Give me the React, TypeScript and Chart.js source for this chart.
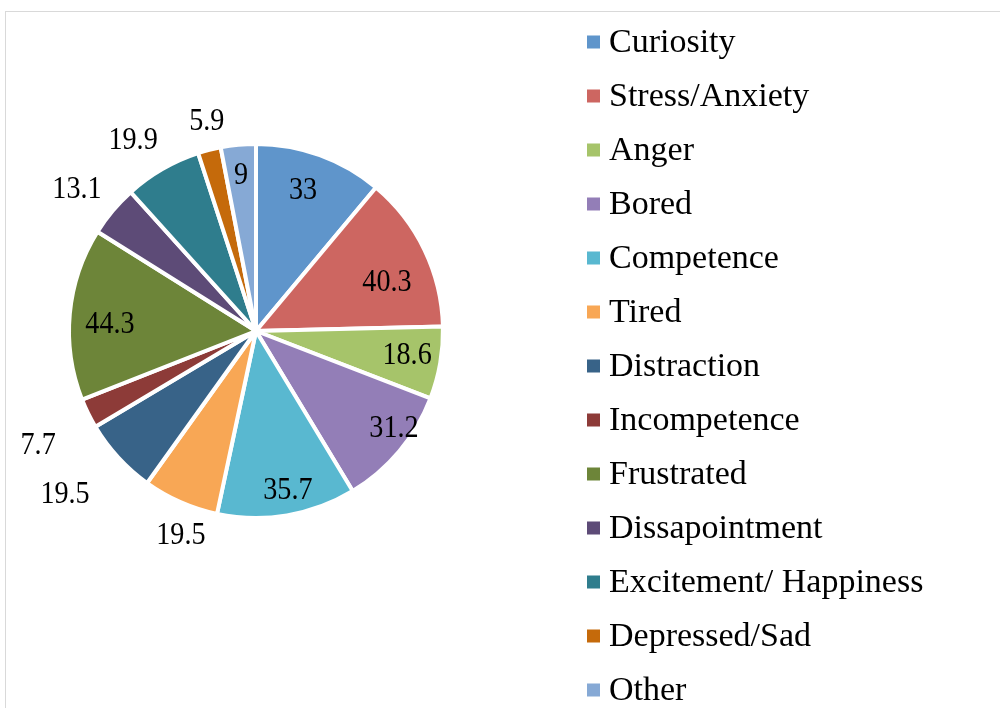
import React, { useEffect, useRef } from "react";
import { Chart, registerables } from "chart.js";

Chart.register(...registerables);

const categories: string[] = [
  "Curiosity",
  "Stress/Anxiety",
  "Anger",
  "Bored",
  "Competence",
  "Tired",
  "Distraction",
  "Incompetence",
  "Frustrated",
  "Dissapointment",
  "Excitement/ Happiness",
  "Depressed/Sad",
  "Other",
];

const values: number[] = [33, 40.3, 18.6, 31.2, 35.7, 19.5, 19.5, 7.7, 44.3, 13.1, 19.9, 5.9, 9];

const sliceColors: string[] = [
  "#5F95CB",
  "#CD6661",
  "#A6C46A",
  "#937EB7",
  "#59B8D0",
  "#F8A755",
  "#386388",
  "#8D3B38",
  "#6D8539",
  "#5D4B77",
  "#2F7D8D",
  "#C56A0B",
  "#86A9D5",
];

// label placement: radial distance as a fraction of the pie radius, and an angular nudge in degrees
const labelRadius: number[] = [0.795, 0.748, 0.818, 0.902, 0.867, 1.162, 1.343, 1.313, 0.782, 1.225, 1.215, 1.158, 0.838];
const labelAngleNudge: number[] = [-1.5, 5.2, -0.9, -4.9, -1.8, -3.6, 2.1, -1.3, -2.2, -1.4, -2.7, 1.3, 0];

const labelPlugin = {
  id: "valueLabels",
  afterDatasetsDraw(chart: any) {
    const ctx = chart.ctx;
    const meta = chart.getDatasetMeta(0);
    const data = chart.data.datasets[0].data as number[];
    ctx.save();
    ctx.fillStyle = "#000000";
    ctx.font = "32px 'Liberation Serif'";
    ctx.textAlign = "center";
    ctx.textBaseline = "middle";
    meta.data.forEach((arc: any, i: number) => {
      const p = arc.getProps(["x", "y", "startAngle", "endAngle", "outerRadius"], true);
      const mid = (p.startAngle + p.endAngle) / 2 + (labelAngleNudge[i] * Math.PI) / 180;
      const r = p.outerRadius * labelRadius[i];
      const x = p.x + Math.cos(mid) * r;
      const y = p.y + Math.sin(mid) * r;
      ctx.save();
      ctx.translate(x, y);
      ctx.scale(0.88, 1);
      ctx.fillText(String(data[i]), 0, 1);
      ctx.restore();
    });
    ctx.restore();
  },
};

const legendPlugin = {
  id: "sideLegend",
  afterDraw(chart: any) {
    const ctx = chart.ctx;
    const labels = chart.data.labels as string[];
    const colors = chart.data.datasets[0].backgroundColor as string[];
    const boxX = 581;
    const textX = 603;
    const firstY = 30;
    const step = 54;
    const box = 13;
    ctx.save();
    ctx.font = "34px 'Liberation Serif'";
    ctx.textAlign = "left";
    ctx.textBaseline = "middle";
    labels.forEach((lab, i) => {
      const cy = firstY + i * step;
      ctx.fillStyle = colors[i];
      ctx.fillRect(boxX, cy - box / 2, box, box);
      ctx.fillStyle = "#000000";
      ctx.fillText(lab, textX, cy + 1);
    });
    ctx.restore();
  },
};

export default function App() {
  const canvasRef = useRef<HTMLCanvasElement | null>(null);

  useEffect(() => {
    if (!canvasRef.current) return;
    const chart = new Chart(canvasRef.current, {
      type: "pie",
      data: {
        labels: categories,
        datasets: [
          {
            data: values,
            backgroundColor: sliceColors,
            borderColor: "#ffffff",
            borderWidth: 4,
          },
        ],
      },
      options: {
        responsive: false,
        animation: false,
        radius: 187,
        layout: { padding: { left: 0, top: 0, right: 494, bottom: 58 } },
        plugins: {
          legend: { display: false },
          tooltip: { enabled: false },
        },
      } as any,
      plugins: [labelPlugin, legendPlugin],
    });
    return () => chart.destroy();
  }, []);

  return (
    <div
      style={{
        position: "fixed",
        left: 5,
        top: 11,
        width: 995,
        height: 697,
        borderTop: "1px solid #d9d9d9",
        borderLeft: "1px solid #d9d9d9",
        overflow: "hidden",
        background: "#ffffff",
      }}
    >
      <canvas ref={canvasRef} width={994} height={696} style={{ display: "block" }} />
    </div>
  );
}
